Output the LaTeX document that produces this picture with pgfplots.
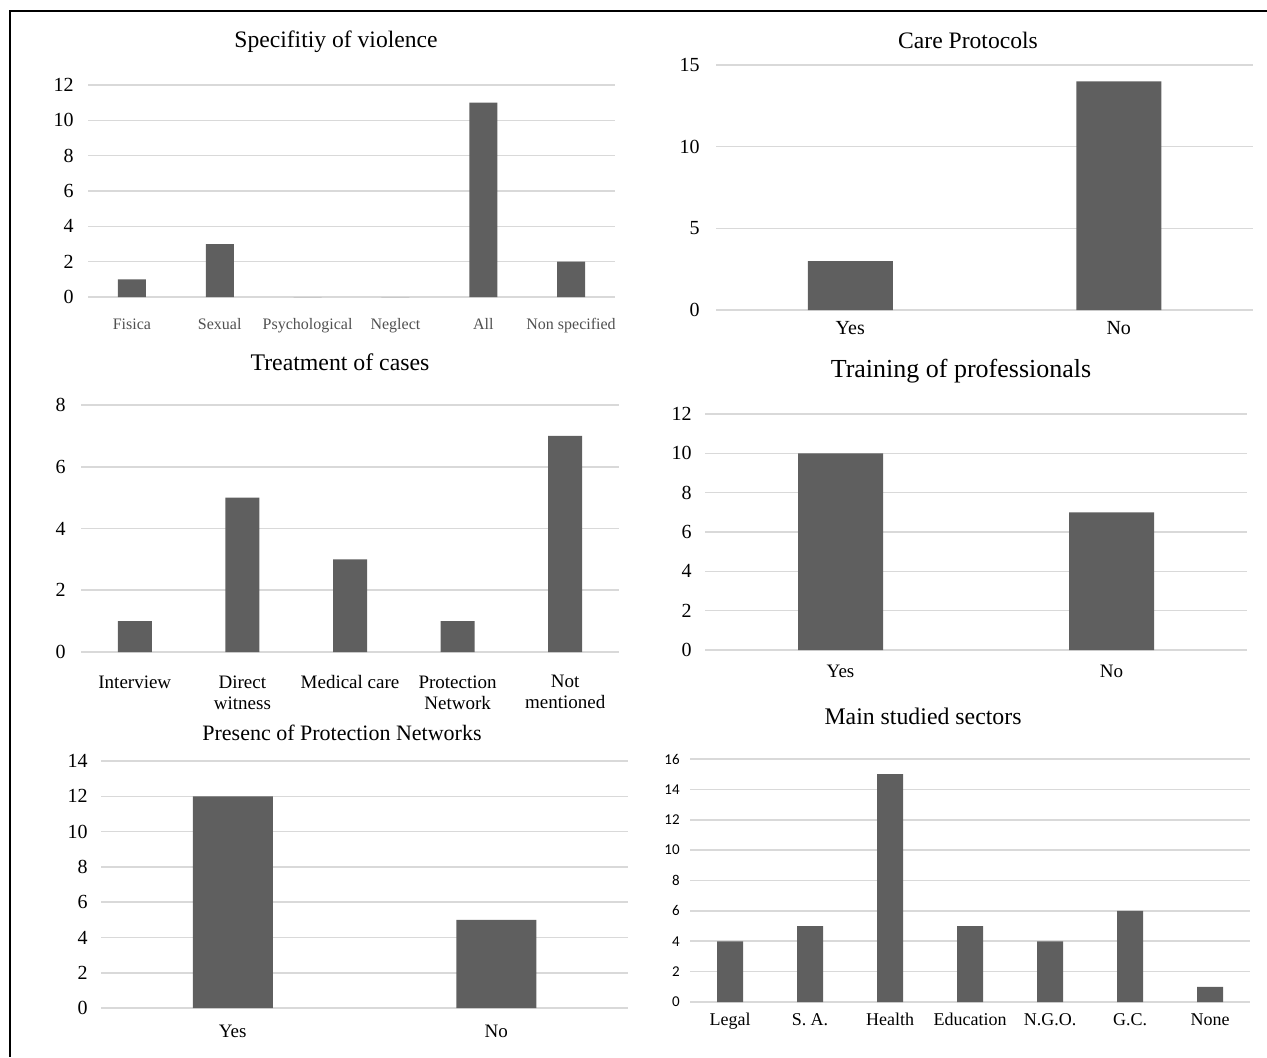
\documentclass[border=0pt]{standalone}
\usepackage{fontspec}
\setmainfont{Liberation Serif}
\newfontfamily\carlito{Carlito}
\usepackage{pgfplots}
\pgfplotsset{compat=1.18}

\definecolor{barc}{HTML}{5F5F5F}
\definecolor{gridc}{HTML}{D9D9D9}
\definecolor{labc}{HTML}{505050}

\pgfplotsset{
  panel/.style={
    scale only axis,
    anchor=south west,
    ymin=0,
    axis line style={draw=none},
    major tick length=0pt,
    ymajorgrids,
    grid style={color=gridc, line width=0.8pt},
    /pgf/number format/assume math mode=true,
    yticklabel style={anchor=east, inner sep=0pt, font=\rmfamily\fontsize{10}{12}\selectfont},
    xticklabel style={anchor=base, inner sep=0pt},
    xtick=data,
  },
  bars/.style={ybar, fill=barc, draw=none},
}

\begin{document}
\begin{tikzpicture}
\useasboundingbox (0,0) rectangle (633.5pt,-528.5pt);
% page border (top and left edges only)
\draw[line width=1pt] (633.5pt,-5.5pt) -- (5pt,-5.5pt) -- (5pt,-528.5pt);

% Specifitiy of violence
\begin{axis}[panel, at={(44pt,-148.5pt)}, width=263.5pt, height=106pt,
  xmin=-0.5, xmax=5.5, ymax=12, ytick={0,2,...,12},
  xticklabels={Fisica,Sexual,Psychological,Neglect,All,Non specified},
  xticklabel style={yshift=-16.3pt, text=labc, font=\fontsize{8}{9}\selectfont},
  yticklabel style={xshift=-7pt}]
\addplot[bars, bar width=14pt] coordinates {(0,1) (1,3) (2,0) (3,0) (4,11) (5,2)};
\end{axis}
\node[font=\fontsize{11.8}{14}\selectfont] at (168pt,-21pt) {Specifitiy of violence};

% Care Protocols
\begin{axis}[panel, at={(358pt,-155pt)}, width=268.5pt, height=122.5pt,
  xmin=-0.5, xmax=1.5, ymax=15, ytick={0,5,10,15},
  xticklabels={Yes,No},
  xticklabel style={yshift=-12pt, font=\fontsize{10}{12}\selectfont},
  yticklabel style={xshift=-8pt}]
\addplot[bars, bar width=42.5pt] coordinates {(0,3) (1,14)};
\end{axis}
\node[font=\fontsize{11.8}{14}\selectfont] at (484pt,-20pt) {Care Protocols};

% Treatment of cases
\begin{axis}[panel, at={(40.5pt,-326pt)}, width=269pt, height=123.5pt,
  xmin=-0.5, xmax=4.5, ymax=8, ytick={0,2,...,8},
  xticklabels={Interview,{Direct\\witness},Medical care,{Protection\\Network},{Not\\mentioned}},
  xticklabel style={anchor=north, yshift=-11.5pt, align=center, font=\fontsize{9.5}{10.5}\selectfont},
  yticklabel style={xshift=-7.5pt}]
\addplot[bars, bar width=17pt] coordinates {(0,1) (1,5) (2,3) (3,1) (4,7)};
\end{axis}
\node[font=\fontsize{11.9}{14}\selectfont] at (170pt,-181pt) {Treatment of cases};

% Training of professionals
\begin{axis}[panel, at={(352.5pt,-325pt)}, width=271pt, height=118pt,
  xmin=-0.5, xmax=1.5, ymax=12, ytick={0,2,...,12},
  xticklabels={Yes,No},
  xticklabel style={yshift=-13.7pt, font=\fontsize{9.5}{11}\selectfont},
  yticklabel style={xshift=-6.5pt}]
\addplot[bars, bar width=42.5pt] coordinates {(0,10) (1,7)};
\end{axis}
\node[font=\fontsize{13}{15}\selectfont] at (480.5pt,-185.5pt) {Training of professionals};

% Presenc of Protection Networks
\begin{axis}[panel, at={(50.5pt,-504pt)}, width=263.5pt, height=123.5pt,
  xmin=-0.5, xmax=1.5, ymax=14, ytick={0,2,...,14},
  xticklabels={Yes,No},
  xticklabel style={yshift=-14.7pt, font=\fontsize{9.5}{11}\selectfont},
  yticklabel style={xshift=-6.5pt}]
\addplot[bars, bar width=40pt] coordinates {(0,12) (1,5)};
\end{axis}
\node[font=\fontsize{11}{13}\selectfont] at (171pt,-366.5pt) {Presenc of Protection Networks};

% Main studied sectors
\begin{axis}[panel, at={(345pt,-501pt)}, width=280pt, height=121.5pt,
  xmin=-0.5, xmax=6.5, ymax=16, ytick={0,2,...,16},
  xticklabels={Legal,S. A.,Health,Education,N.G.O.,G.C.,None},
  xticklabel style={yshift=-11.5pt, font=\fontsize{9}{10}\selectfont},
  yticklabel style={xshift=-5pt, font=\carlito\fontsize{7.5}{9}\selectfont}]
\addplot[bars, bar width=13pt] coordinates {(0,4) (1,5) (2,15) (3,5) (4,4) (5,6) (6,1)};
\end{axis}
\node[font=\fontsize{11.9}{14}\selectfont] at (461.5pt,-358pt) {Main studied sectors};
\end{tikzpicture}
\end{document}
